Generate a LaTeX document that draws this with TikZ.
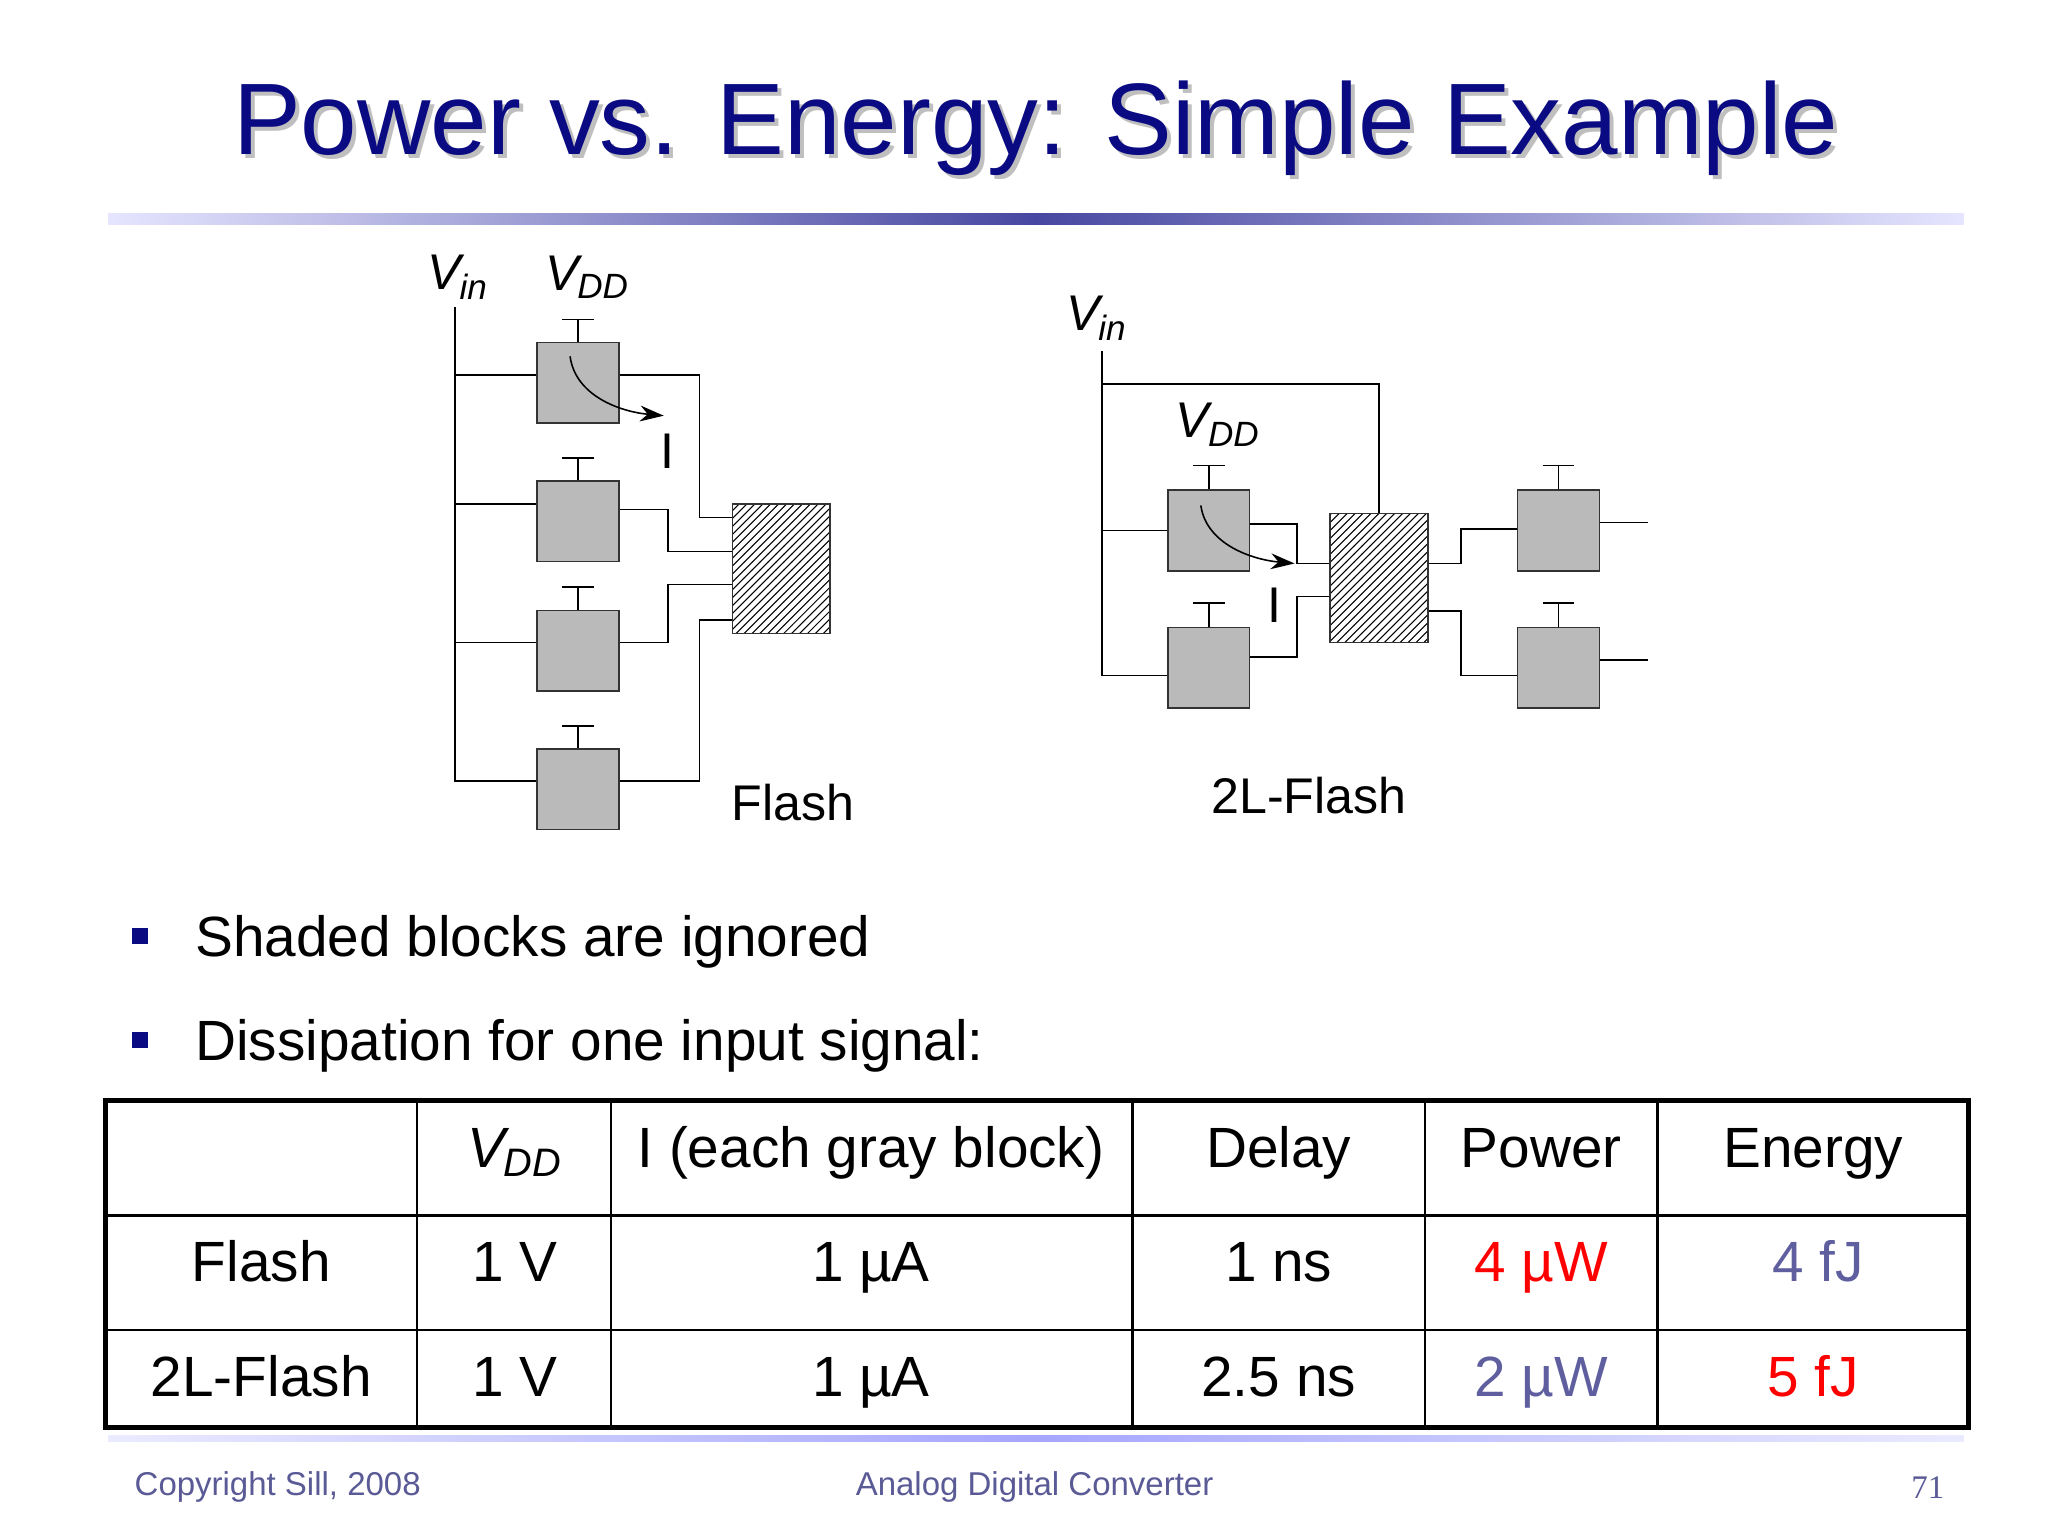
\documentclass[tikz,border=0pt]{standalone}
\usepackage{fontspec}
\setmainfont{Liberation Sans}
\usetikzlibrary{patterns,arrows.meta}
\definecolor{ttl}{RGB}{10,10,130}
\definecolor{slate}{RGB}{95,95,160}
\definecolor{foot}{RGB}{90,90,150}
\newcommand{\VV}[1]{{\itshape V\kern-0.5pt\textsubscript{#1}}}
\begin{document}
\begin{tikzpicture}[x=0.5pt,y=-0.5pt,
 gb/.style={draw=black!80,fill=black!27,minimum width=31pt,minimum height=30.5pt,inner sep=0,line width=0.6pt},
 hb/.style={draw=black!80,pattern=north east lines,minimum width=37pt,minimum height=49pt,inner sep=0,line width=0.6pt},
 w/.style={line width=0.6pt},
 lbl/.style={font=\fontsize{19}{22}\selectfont},
 tx/.style={font=\fontsize{21.5}{26}\selectfont,anchor=base},
 ft/.style={font=\fontsize{12.5}{14}\selectfont,text=foot}]
\useasboundingbox (0,0) rectangle (1552,1164);
% title
\node[font=\fontsize{38.5}{46}\selectfont,text=black!25] (tsh) at (788,100) {Power vs. Energy: Simple Example};
\node[font=\fontsize{38.5}{46}\selectfont,text=ttl] (title) at (785,97) {Power vs. Energy: Simple Example};
\shade[left color=blue!10,right color=ttl!75] (82,162) rectangle (785,170);
\shade[left color=ttl!75,right color=blue!10] (785,162) rectangle (1488,170);
% ---- Flash ----
\node[lbl] (vin1) at (347,210) {\VV{in}};
\node[lbl] (vdd1) at (445,210) {\VV{DD}};
\foreach \n/\y in {1/290,2/395,3/493,4/598}{
 \node[gb] (f\n) at (438,\y) {};
 \coordinate (ft\n) at (438,\y-48);
 \draw[w] (f\n.north) -- (ft\n) (426,\y-48) -- (450,\y-48);
}
\node[hb] (h1) at (592,431) {};
\coordinate (vt1) at (345,233);
\coordinate (vb1) at (345,592);
\draw[w] (vt1) -- (vb1) -- (f4.west|-vb1);
\draw[w] (345,284) -- (f1.west|-345,284);
\draw[w] (345,382) -- (f2.west|-345,382);
\draw[w] (345,487) -- (f3.west|-345,487);
\draw[w] (f1.east|-0,284) -| (530,392) -- (h1.west|-0,392);
\draw[w] (f2.east|-0,386) -| (506,418) -- (h1.west|-0,418);
\draw[w] (f3.east|-0,487) -| (506,443) -- (h1.west|-0,443);
\draw[w] (f4.east|-0,592) -| (530,470) -- (h1.west|-0,470);
\draw[w,-{Stealth[length=9pt,width=6pt]}] (432,270) .. controls (436,300) and (470,312) .. (503,315);
\node[lbl] (i1) at (506,342) {I};
\node[lbl] (fl) at (601,608) {Flash};
% ---- 2L-Flash ----
\node[lbl] (vin2) at (831,241) {\VV{in}};
\node[lbl] (vdd2) at (923,322) {\VV{DD}};
\node[gb] (a) at (916,402) {};
\node[gb] (b) at (916,506) {};
\node[gb] (c) at (1181,402) {};
\node[gb] (d) at (1181,506) {};
\foreach \n in {a,b,c,d}{
 \draw[w] (\n.north) -- ++(0,-18) ++(-12,0) -- ++(24,0);
}
\node[hb] (h2) at (1045,438) {};
\draw[w] (835,266) -- (835,512) -- (b.west|-0,512);
\draw[w] (835,291) -| (h2.north);
\draw[w] (835,402) -- (a.west);
\draw[w] (a.east|-0,397) -| (983,427) -- (h2.west|-0,427);
\draw[w] (b.east|-0,498) -| (983,452) -- (h2.west|-0,452);
\draw[w] (h2.east|-0,427) -| (1107,401) -- (c.west|-0,401);
\draw[w] (h2.east|-0,463) -| (1107,512) -- (d.west|-0,512);
\coordinate (oc) at (1249,396);
\coordinate (od) at (1249,500);
\draw[w] (c.east|-oc) -- (oc);
\draw[w] (d.east|-od) -- (od);
\draw[w,-{Stealth[length=9pt,width=6pt]}] (910,383) .. controls (914,412) and (948,424) .. (981,427);
\node[lbl] (i2) at (966,459) {I};
\node[lbl] (fl2) at (992,603) {2L-Flash};
% bullets
\fill[ttl] (100,703) rectangle (112,715);
\fill[ttl] (100,782) rectangle (112,794);
\node[tx,anchor=base west] (b1) at (141,725) {Shaded blocks are ignored};
\node[tx,anchor=base west] (b2) at (141,804) {Dissipation for one input signal:};
% table
\draw[line width=2pt] (80,834) rectangle (1492,1082);
\foreach \x in {316,463,858,1080,1256} \draw[line width=1pt] (\x,834) -- (\x,1082);
\foreach \y in {921,1008} \draw[line width=1pt] (80,\y) -- (1492,\y);
\node[tx] (h_v) at (390,885) {\VV{DD}};
\node[tx] (h_i) at (660,885) {I (each gray block)};
\node[tx] (h_d) at (969,885) {Delay};
\node[tx] (h_p) at (1168,885) {Power};
\node[tx] (h_e) at (1374,885) {Energy};
\node[tx] (r1a) at (198,971) {Flash};
\node[tx] (r1b) at (390,971) {1 V};
\node[tx] (r1c) at (660,971) {1 µA};
\node[tx] (r1d) at (969,971) {1 ns};
\node[tx,text=red] (r1e) at (1168,971) {4 µW};
\node[tx,text=slate] (r1f) at (1378,971) {4 fJ};
\node[tx] (r2a) at (198,1058) {2L-Flash};
\node[tx] (r2b) at (390,1058) {1 V};
\node[tx] (r2c) at (660,1058) {1 µA};
\node[tx] (r2d) at (969,1058) {2.5 ns};
\node[tx,text=slate] (r2e) at (1168,1058) {2 µW};
\node[tx,text=red] (r2f) at (1374,1058) {5 fJ};
% footer
\shade[left color=blue!8,right color=blue!8,middle color=blue!35] (82,1088) rectangle (1488,1092);
\node[ft,anchor=west] (f_l) at (95,1127) {Copyright Sill, 2008};
\node[ft] (f_c) at (784,1127) {Analog Digital Converter};
\node[ft,font=\fontspec{Liberation Serif}\fontsize{12.5}{14}\selectfont] (f_r) at (1461,1127) {71};
\end{tikzpicture}
\end{document}
